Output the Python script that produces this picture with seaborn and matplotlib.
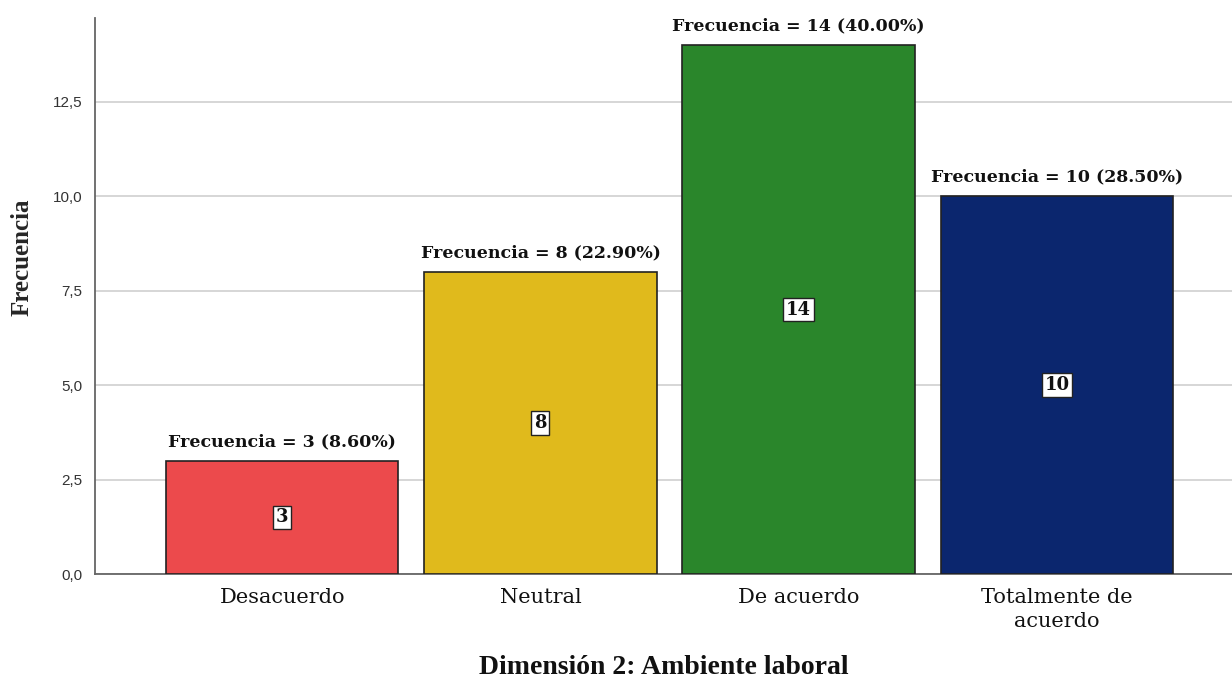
import matplotlib
matplotlib.use("Agg")
import matplotlib.pyplot as plt
import matplotlib.ticker as mticker
import seaborn as sns
import pandas as pd

categories = ["Desacuerdo", "Neutral", "De acuerdo", "Totalmente de\nacuerdo"]
frecuencias = [3, 8, 14, 10]
porcentajes = ["8.60%", "22.90%", "40.00%", "28.50%"]
colores = ["#EC4A4C", "#E0BA1C", "#2A862B", "#0B266E"]
y_ticks = [0, 2.5, 5.0, 7.5, 10.0, 12.5]

sns.set_theme(style="white")
plt.rcParams["font.family"] = ["DejaVu Sans"]

df = pd.DataFrame({"cat": categories, "freq": frecuencias})

fig = plt.figure(figsize=(12.32, 6.81), dpi=100)
ax = fig.add_axes([95 / 1232, 1 - 574 / 681, 1 - 95 / 1232, (574 - 18) / 681])

sns.barplot(data=df, x="cat", y="freq", hue="cat", palette=colores, legend=False,
            saturation=1, width=0.9, edgecolor="#222222", linewidth=1.2, ax=ax, zorder=3)

ax.set_xlim(-0.725, 3.678)
ax.set_ylim(0, 14.72)
ax.set_yticks(y_ticks)
ax.yaxis.set_major_formatter(mticker.FuncFormatter(lambda v, p: f"{v:.1f}".replace(".", ",")))
ax.grid(axis="y", color="#CFCFCF", linewidth=1.2, zorder=0)
ax.set_axisbelow(True)

for s in ["top", "right"]:
    ax.spines[s].set_visible(False)
for s in ["left", "bottom"]:
    ax.spines[s].set_color("#666666")
    ax.spines[s].set_linewidth(1.3)

ax.tick_params(axis="y", labelsize=11, colors="#333333", length=0, pad=9)
ax.tick_params(axis="x", length=0, pad=10)
for lbl in ax.get_yticklabels():
    lbl.set_family("Liberation Sans")
ax.set_xticks(range(len(categories)))
ax.set_xticklabels(categories, family="DejaVu Serif", fontsize=15, linespacing=1.35, color="#111111")

ax.set_ylabel("Frecuencia", family="Liberation Serif", fontweight="bold", fontsize=18)
ax.yaxis.set_label_coords(-0.0545, 0.57)
ax.set_xlabel("Dimensión 2: Ambiente laboral", family="Liberation Serif", fontweight="bold",
              fontsize=20, color="#111111")
ax.xaxis.set_label_coords(0.5, -0.145)

for i, (f, p) in enumerate(zip(frecuencias, porcentajes)):
    ax.annotate(f"Frecuencia = {f} ({p})", xy=(i, f), xytext=(0, 7.5), textcoords="offset points",
                ha="center", va="bottom", family="DejaVu Serif", fontweight="bold", fontsize=12.5,
                color="#111111")
    ax.text(i, f / 2, f"{f}", ha="center", va="center", family="DejaVu Serif", fontweight="bold",
            fontsize=13, color="#111111", zorder=5,
            bbox=dict(boxstyle="square,pad=0.15", facecolor="white", edgecolor="#222222", linewidth=1))

fig.savefig("out.png", dpi=100)
